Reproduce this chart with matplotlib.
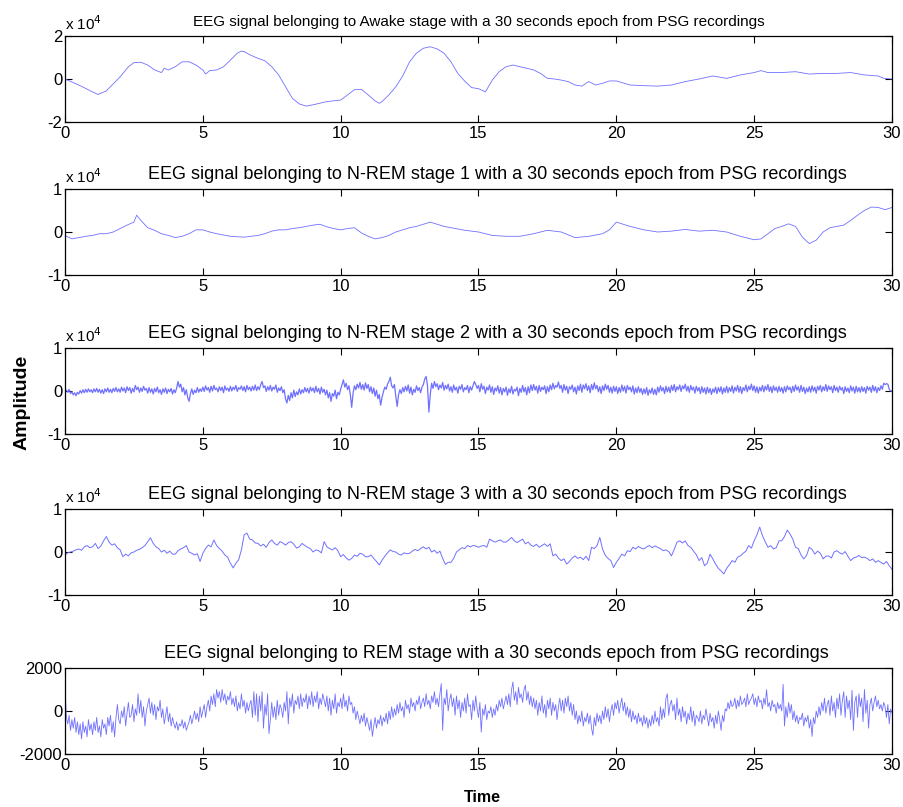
import numpy as np
import matplotlib
matplotlib.use("Agg")
import matplotlib.pyplot as plt

plt.rcParams['font.family'] = ['Liberation Sans', 'DejaVu Sans']

# ---------------- data ----------------
awake_t = [0,0.5,1,1.2,1.5,2,2.3,2.5,2.75,3,3.25,3.5,3.6,3.75,4,4.25,4.5,4.75,5,5.1,5.25,5.5,5.75,6,6.25,6.4,6.5,6.75,7,7.25,
           7.5,7.75,8,8.25,8.5,8.75,9,9.5,10,10.25,10.5,10.75,11,11.25,11.4,11.5,11.75,12,12.25,12.5,12.75,13,13.25,13.5,13.75,
           14,14.25,14.5,14.75,15,15.25,15.5,15.75,16,16.25,16.5,16.75,17,17.25,17.5,17.75,18,18.25,18.5,18.75,19,19.25,19.5,
           19.75,20,20.5,21,21.5,22,22.5,23,23.5,24,24.5,25,25.25,25.5,26,26.5,27,27.5,28,28.5,29,29.5,29.7,30]
awake_v = [0,-2800,-6000,-7200,-5500,1000,5700,7600,7800,6500,4200,3000,5000,4200,5700,8000,8000,6500,4200,2300,3900,4200,
           5700,8800,12000,13000,12700,11000,9600,8500,5700,1900,-3600,-9000,-11600,-12600,-12000,-10500,-9800,-7400,-5000,
           -4800,-7400,-10200,-11300,-10500,-7400,-3600,1400,8000,12000,14300,15000,14000,12000,8000,2600,-1000,-4000,-4500,
           -6000,-500,3400,5700,6500,5700,5000,4200,2600,300,0,-500,-1200,-2800,-3300,-1200,-2800,-2000,-900,-900,-2800,-3100,
           -3300,-2800,-1200,0,1400,300,1900,3000,3900,3000,3000,3400,2300,2600,2600,3000,1900,1400,300,0]

nrem1_t = [0,0.25,0.5,0.75,1,1.25,1.5,1.75,2,2.25,2.5,2.6,2.75,3,3.25,3.5,3.75,4,4.25,4.5,4.75,5,5.25,5.5,6,6.5,7,7.25,7.5,
           7.75,8,8.25,8.5,8.75,9,9.25,9.5,9.75,10,10.25,10.5,10.75,11,11.25,11.5,11.75,12,12.25,12.5,12.75,13,13.25,13.5,
           13.75,14,14.5,15,15.5,16,16.5,17,17.5,18,18.5,19,19.5,19.75,20,20.25,20.5,21,21.5,22,22.5,23,23.5,24,24.5,25,25.25,
           25.5,25.75,26,26.25,26.5,26.75,27,27.25,27.5,27.75,28,28.25,28.5,28.75,29,29.25,29.5,29.75,30]
nrem1_v = [-800,-1600,-1300,-1000,-800,-400,-400,0,800,1600,2300,3900,2700,1000,400,-400,-800,-1300,-1000,-400,500,500,0,
           -400,-1000,-1200,-800,-400,200,500,500,800,1000,1300,1600,1800,1200,800,500,800,1000,-200,-1000,-1600,-1300,-800,
           0,500,1000,1300,1800,2300,1800,1300,1000,400,0,-800,-1000,-1000,-400,400,0,-1300,-1000,-400,500,2300,1800,1300,500,
           0,200,600,200,400,0,-1000,-1800,-1600,-400,800,1300,1900,1300,-1200,-2700,-1900,0,1000,1300,1600,2700,3900,5000,
           5800,5700,5200,5700]

# N-REM stage 2, one value every 0.05 s
nrem2_v = [
    0,200,-300,400,-600,-200,-900,-400,-1100,-300,-700,100,-500,300,-400,400,-300,500,-200,300,
    -400,500,-200,600,-300,400,-500,300,-600,500,-200,700,-300,400,-400,600,-100,800,-200,500,
    -300,900,0,700,-400,1000,100,800,-500,600,-200,1300,300,900,-300,700,-100,1100,200,600,
    -500,800,-300,500,-700,600,-200,900,-400,300,-800,500,-300,700,-600,400,-200,600,-700,300,
    -400,700,2200,900,1600,-200,800,-900,300,-1500,-2400,-600,500,-800,200,-400,800,-300,500,-100,
    900,-100,1200,200,800,-300,1100,0,1300,300,700,-200,1000,100,900,-400,1200,200,700,-100,
    1100,0,900,300,1300,-100,800,400,1200,100,1000,-200,1300,300,900,0,1100,200,1400,100,
    1000,300,1500,2200,800,1200,-100,1000,200,1300,0,900,400,1400,-300,700,100,1000,-400,300,
    -1800,-2800,-1000,-2200,-400,-1600,200,-1300,-200,-900,500,-700,300,-400,800,-200,600,-500,900,0,
    700,-400,1100,-200,600,-700,900,-300,400,-900,200,-1600,-400,-2400,-600,-1200,200,-1800,-300,-900,
    400,1500,2600,900,1800,300,1200,-800,-3800,-500,1200,300,1600,700,2000,400,1500,200,1900,600,
    1500,-200,1000,-600,700,-1200,200,-1800,-800,-3300,-1500,-200,900,400,1600,2200,3200,1200,700,1500,
    -1200,-3600,-800,300,-600,800,-200,1100,0,1400,-500,900,-900,400,-300,1200,100,800,-400,900,
    1500,2800,3400,1200,-4900,-800,1800,600,2200,1000,1700,300,1400,700,2000,200,1300,500,1600,0,
    1000,-300,1400,200,900,-500,1100,400,1500,-200,800,300,1300,-400,1000,200,1200,2200,1500,600,
    1300,-200,1700,400,1100,-600,900,200,1400,-300,1000,-800,700,0,1200,-500,800,-900,600,-200,
    900,-1000,500,-400,1100,-700,400,0,900,-1100,600,-300,1300,-200,800,-900,1000,-400,1400,100,
    1500,200,1100,-500,1300,-100,900,300,1200,-600,1000,-200,1400,300,1800,500,1300,900,2100,600,
    1300,-300,1500,200,1100,-600,1000,400,1400,-200,900,-700,1200,100,1600,-300,1400,500,1700,100,
    1200,-400,1500,300,1900,500,1300,-200,1000,-600,1200,100,1600,400,1300,-300,900,-500,1100,-100,
    1000,-600,800,-300,1400,0,1100,-500,1300,300,900,-200,1200,-700,700,-400,1000,-300,600,-800,
    500,-600,800,-1000,300,-500,700,-800,400,-900,900,-300,1200,0,800,-600,1100,-200,900,-400,
    1300,100,1500,-200,1000,300,1400,-100,1200,500,1600,0,1100,-300,1300,200,900,-500,1100,0,
    800,-600,1000,-300,700,-700,900,-400,600,-800,500,-300,900,-600,800,-200,1000,-700,700,-300,
    1100,-400,800,-100,1200,-500,900,0,1300,-300,1000,-600,800,100,1400,-200,1100,300,1600,100,
    1200,-300,1000,-500,900,0,1300,-200,1100,200,1500,-100,1000,-400,1200,100,900,-300,1100,-100,
    800,-500,1000,-200,1200,300,900,-400,1100,-100,1400,200,1000,-300,1300,-100,900,-600,700,-200,
    1000,-300,1200,0,900,-500,1100,200,1300,-200,1000,100,1500,-100,1200,300,1000,-400,1300,100,
    900,-300,1100,200,800,-600,1000,-100,700,-400,1200,0,900,-500,1100,-200,800,-300,1000,-100,
    800,-500,1100,200,900,-300,1300,0,1000,-400,800,100,1200,400,1800,1500,1700,1600,400,0,
    0]

# N-REM stage 3, one value every 0.1 s
nrem3_v = [
    -700,-200,0,200,500,700,400,1200,1500,1000,
    1200,2000,800,1400,2600,3600,2300,1600,1900,1000,
    500,-1100,-500,-900,-200,0,400,600,1000,1500,
    2400,3300,2000,1200,800,0,400,-300,200,-500,
    -500,300,700,1000,1500,0,-300,-700,-400,-2200,
    -300,800,1600,1200,2800,1500,800,200,-700,-1200,
    -2600,-3700,-2600,-1800,500,4000,4400,3000,2800,2100,
    2000,1400,1800,1100,2200,2800,2000,1600,2400,2100,
    1600,2200,2400,1800,900,1200,2000,1500,1100,800,
    0,500,300,-200,2400,1200,800,500,1000,300,
    -1100,-600,-1400,-1900,-1500,-700,-1000,-300,-500,-1100,
    -1100,-700,-1500,-2200,-3000,-1900,-1000,-200,500,100,
    0,-500,-700,-200,-400,-300,200,600,300,800,
    1200,700,1100,0,400,-300,200,-1500,-2900,-2400,
    -2400,-1500,0,500,1000,800,1500,1200,1500,1400,
    1100,1400,1500,1100,3000,2600,2300,2600,2800,2300,
    2300,2800,3400,2600,2200,2600,3000,1900,2300,1600,
    1300,1800,1100,1500,1900,1300,1900,-900,-500,-1400,
    -2000,-1600,-2800,-2200,-1400,-900,-1500,-1200,-1800,-1000,
    -2000,1100,800,1500,3400,700,-800,-1500,-2000,-3600,
    -2400,-1500,-500,-900,300,100,1100,700,1300,900,
    700,1200,1500,1000,1400,1100,800,300,500,100,
    -900,600,2300,2600,2100,2600,1500,1100,200,-600,
    -2000,-1300,-3200,-2600,-500,-1600,-2800,-3800,-4400,-5100,
    -3800,-3000,-2000,-2400,-1200,-900,-300,200,1500,900,
    2600,4000,5800,3800,2400,1100,1500,700,1000,2600,
    2600,3600,5100,4200,3000,1100,800,-700,-1600,-800,
    1100,600,-500,200,-300,-1600,-1000,-900,-1400,0,
    300,-200,-500,100,-1000,-2000,-1400,-1200,-800,-1300,
    -1200,-1500,-2000,-1600,-2400,-2000,-2400,-2800,-2200,-3200,
    -4000]

# REM, one value every 0.05 s
rem_v = [
    1200,-300,-600,-200,-900,-400,-800,-300,-1000,-500,-1100,-600,-1300,-500,-1000,-700,-1200,-400,-900,-600,
    -1100,-500,-900,-300,-1000,-700,-1200,-400,-800,-600,-1100,-300,-700,-200,-1000,-500,-1200,-300,300,-400,
    -600,0,-300,200,-700,-100,400,-300,-200,300,-500,100,-200,800,-100,500,-300,200,-700,0,
    300,600,-100,400,-200,300,-400,200,0,500,-300,100,-600,-200,200,-500,-100,-700,-300,-600,
    -800,-500,-900,-600,-700,-400,-800,-500,-900,-700,-500,-200,-600,-300,0,-400,-100,-500,200,-300,
    0,300,-300,200,500,0,700,300,800,200,1000,600,900,400,1000,500,800,300,700,500,
    900,300,600,200,700,0,400,100,800,200,500,-100,400,0,300,500,-300,900,-200,800,
    -500,700,0,900,-800,300,-200,800,-1050,-400,400,-300,200,-400,500,-200,300,100,-300,400,
    0,900,-600,600,200,800,-100,500,300,700,100,800,200,600,400,800,100,700,300,900,
    200,700,400,900,100,600,300,800,500,200,700,0,600,-200,500,100,800,-100,400,200,
    600,100,800,200,500,0,700,300,400,-100,200,-400,0,-300,-600,-200,-500,-100,-700,-300,
    -600,-900,-400,-1180,-700,-300,-800,-400,-600,-200,-700,-300,-500,-100,-600,0,-400,200,-300,100,
    -200,300,-100,400,0,200,-300,500,100,300,-100,600,200,400,0,500,300,700,100,400,
    600,200,800,300,500,100,700,400,900,300,600,200,800,1270,-900,600,300,1000,0,500,
    800,200,600,-200,700,100,500,-300,400,0,600,-100,800,200,300,-400,500,0,700,100,
    -300,400,-980,100,-200,300,-400,0,-100,200,-300,100,-200,300,0,500,200,600,100,400,
    700,300,800,200,1000,1350,500,900,300,1100,600,800,400,1000,1200,500,900,300,700,200,
    600,100,500,-200,400,0,700,-100,300,-300,500,100,600,-200,400,0,300,-400,200,600,
    0,500,-100,600,200,700,0,400,-200,300,-400,0,-600,-200,-500,0,-700,-300,-500,-100,
    -600,-200,-800,-1130,-300,-700,-100,-500,-200,-600,0,-400,200,-300,100,-500,0,300,-200,400,
    100,500,-100,300,600,0,400,-200,200,-300,100,-500,0,-400,-200,-600,-100,-500,-300,-700,
    -200,-600,-300,-800,-400,-700,-200,-600,0,-500,-300,-700,200,-400,100,-300,600,800,-200,300,
    500,0,300,-400,600,-200,100,-500,200,-300,0,-600,-100,-400,200,-500,0,-700,-200,-300,
    -500,0,-600,-200,-400,100,-300,-700,-100,-500,-300,-800,-200,-600,0,-400,-900,-200,-500,100,
    0,400,100,500,200,300,600,100,500,200,700,300,400,600,200,800,300,500,600,800,
    300,600,200,700,400,500,100,600,300,990,200,400,0,500,200,300,-100,400,100,300,
    0,1240,-700,200,-300,400,-100,300,-400,0,-500,-200,-600,-300,-400,-100,-700,-300,-500,-200,
    -800,-400,-1180,-300,-600,0,-300,200,-200,400,0,600,-100,300,500,-200,700,0,400,-300,
    600,100,800,-200,500,900,-300,700,100,500,-400,960,-900,400,700,-300,800,200,600,-500,
    1000,-100,500,-800,300,600,0,400,700,200,500,100,300,0,400,200,-300,300,-600,100,
    -100]

titles = [
    "EEG signal belonging to Awake stage with a 30 seconds epoch from PSG recordings",
    "EEG signal belonging to N-REM stage 1 with a 30 seconds epoch from PSG recordings",
    "EEG signal belonging to N-REM stage 2 with a 30 seconds epoch from PSG recordings",
    "EEG signal belonging to N-REM stage 3 with a 30 seconds epoch from PSG recordings",
    "EEG signal belonging to REM stage with a 30 seconds epoch from PSG recordings",
]
x_ticks = [0, 5, 10, 15, 20, 25, 30]

# ---------------- figure ----------------
fig = plt.figure(figsize=(9.04, 8.07), dpi=100)
W, H = 904.0, 807.0
left, right = 65, 892
tops = [36, 189, 348, 509, 668]
ph = 86

series = [
    (np.array(awake_t), np.array(awake_v)),
    (np.array(nrem1_t), np.array(nrem1_v)),
    (np.linspace(0, 30, len(nrem2_v)), np.array(nrem2_v)),
    (np.linspace(0, 30, len(nrem3_v)), np.array(nrem3_v)),
    (np.linspace(0, 30, len(rem_v)), np.array(rem_v)),
]
ylims = [(-2e4, 2e4), (-1e4, 1e4), (-1e4, 1e4), (-1e4, 1e4), (-2000, 2000)]
yticklabels = [['-2', '0', '2'], ['-1', '0', '1'], ['-1', '0', '1'], ['-1', '0', '1'], ['-2000', '0', '2000']]
title_sizes = [11, 13, 13, 13, 13]
title_x = [0.5, 0.523, 0.523, 0.523, 0.522]
line_widths = [0.6, 0.6, 0.9, 0.7, 0.6]
line_color = '#7070ff'

for i, ((t, v), top) in enumerate(zip(series, tops)):
    ax = fig.add_axes([left / W, (H - top - ph) / H, (right - left) / W, ph / H])
    ax.plot(t, v, color=line_color, lw=line_widths[i])
    ax.set_xlim(0, 30)
    ax.set_ylim(*ylims[i])
    lo, hi = ylims[i]
    ax.set_yticks([lo, 0, hi])
    ax.set_yticklabels(yticklabels[i])
    ax.set_xticks(x_ticks)
    ax.set_xticklabels([str(x) for x in x_ticks])
    ax.tick_params(direction='in', top=True, right=True, length=5, width=0.8,
                   labelsize=12, pad=3, colors='black')
    ax.tick_params(axis='y', pad=2)
    for s in ax.spines.values():
        s.set_linewidth(0.9)
    ax.set_title(titles[i], fontsize=title_sizes[i], pad=7, x=title_x[i])
    if i < 4:
        ax.text(0.0, 1.03, r'x 10$^{4}$', transform=ax.transAxes, fontsize=11,
                ha='left', va='bottom')

fig.text(22 / W, 1 - 402 / H, 'Amplitude', rotation=90, fontsize=14, fontweight='bold',
         ha='center', va='center')
fig.text(482 / W, 1 - 798 / H, 'Time', fontsize=11.5, fontweight='bold', ha='center', va='center')

fig.savefig('out.png', dpi=100)
